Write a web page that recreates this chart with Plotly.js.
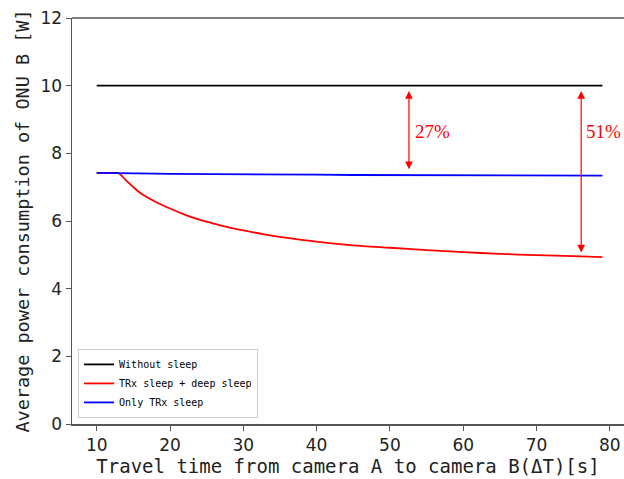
<!DOCTYPE html>
<html>
<head>
<meta charset="utf-8">
<script src="https://cdn.plot.ly/plotly-3.0.1.min.js"></script>
<style>html,body{margin:0;padding:0;background:#fff;}#chart{width:624px;height:479px;}</style>
</head>
<body>
<div id="chart"></div>
<script>
// ---- data ----
const travelTime = [10, 11, 12, 13, 14, 15, 16, 18, 20, 22, 24, 26, 28, 30, 33, 36, 40, 45, 50, 55, 60, 65, 70, 75, 79];
const withoutSleep = [10, 10, 10, 10, 10, 10, 10, 10, 10, 10, 10, 10, 10, 10, 10, 10, 10, 10, 10, 10, 10, 10, 10, 10, 10];
const trxDeepSleep = [7.42, 7.42, 7.42, 7.41, 7.20, 7.00, 6.82, 6.57, 6.37, 6.19, 6.04, 5.92, 5.81, 5.72, 5.60, 5.50, 5.39, 5.28, 5.21, 5.14, 5.08, 5.03, 4.99, 4.96, 4.93];
const onlyTrxSleep = [7.42, 7.42, 7.42, 7.41, 7.41, 7.41, 7.40, 7.40, 7.39, 7.39, 7.39, 7.38, 7.38, 7.38, 7.37, 7.37, 7.37, 7.36, 7.36, 7.36, 7.35, 7.35, 7.35, 7.34, 7.34];
const seriesNames = ["Without sleep", "TRx sleep + deep sleep", "Only TRx sleep"];
const xTicks = [10, 20, 30, 40, 50, 60, 70, 80];
const yTicks = [0, 2, 4, 6, 8, 10, 12];
const reductionLabels = ["27%", "51%"];
const reductionX = [52.6, 76.1];

const mono = "DejaVu Sans Mono, monospace";
const traces = [
  {x: travelTime, y: withoutSleep, name: seriesNames[0], mode: "lines", line: {color: "#000000", width: 1.8}},
  {x: travelTime, y: trxDeepSleep, name: seriesNames[1], mode: "lines", line: {color: "#ff0000", width: 1.8, shape: "spline", smoothing: 0.8}},
  {x: travelTime, y: onlyTrxSleep, name: seriesNames[2], mode: "lines", line: {color: "#0000ff", width: 1.8}}
];

function arrow(xv, yTop, yBot) {
  return {x: xv, y: yBot, ax: xv, ay: yTop, xref: "x", yref: "y", axref: "x", ayref: "y",
    text: "", showarrow: true, arrowside: "end+start", arrowhead: 2, startarrowhead: 2,
    arrowsize: 1.3, startarrowsize: 1.3, arrowwidth: 1.2, arrowcolor: "#ff0000", standoff: 0, startstandoff: 0};
}
function label(xv, txt) {
  return {x: xv, y: 8.64, xref: "x", yref: "y", text: txt, showarrow: false, xanchor: "left", yanchor: "middle",
    font: {family: "Liberation Serif, Times New Roman, serif", size: 19, color: "#ff0000"}};
}
const annotations = [
  arrow(reductionX[0], 9.89, 7.53),
  label(reductionX[0] + 0.6, reductionLabels[0]),
  arrow(reductionX[1], 9.89, 5.07),
  label(reductionX[1] + 0.4, reductionLabels[1])
];

const layout = {
  width: 624, height: 479,
  margin: {l: 72, r: 0, t: 18, b: 55},
  paper_bgcolor: "#ffffff", plot_bgcolor: "#ffffff",
  showlegend: true,
  legend: {x: 0.011, y: 0.015, xanchor: "left", yanchor: "bottom",
    bgcolor: "#ffffff", bordercolor: "#cccccc", borderwidth: 1, itemwidth: 30,
    font: {family: mono, size: 10, color: "#000000"}, tracegroupgap: 0},
  xaxis: {range: [6.63, 81.94], tickvals: xTicks, ticktext: xTicks.map(String),
    showgrid: false, zeroline: false, showline: true, linecolor: "#555555", linewidth: 1.5,
    ticks: "outside", ticklen: 5, tickwidth: 1, tickcolor: "#555555",
    tickfont: {family: "DejaVu Sans, sans-serif", size: 17, color: "#222222"},
    title: {text: "Travel time from camera A to camera B(\u0394T)[s]", standoff: 4,
      font: {family: mono, size: 19, color: "#222222"}}},
  yaxis: {range: [0, 12], tickvals: yTicks, ticktext: yTicks.map(String),
    showgrid: false, zeroline: false, showline: true, linecolor: "#555555", linewidth: 1.5,
    ticks: "outside", ticklen: 5, tickwidth: 1, tickcolor: "#555555",
    tickfont: {family: "DejaVu Sans, sans-serif", size: 17, color: "#222222"},
    title: {text: "Average power consumption of ONU B [W]", standoff: 6,
      font: {family: mono, size: 18.5, color: "#222222"}}},
  shapes: [{type: "line", xref: "paper", yref: "paper", x0: 0, x1: 1, y0: 1, y1: 1,
    line: {color: "#555555", width: 1.5}}],
  annotations: annotations
};

Plotly.newPlot("chart", traces, layout, {displayModeBar: false, staticPlot: true});
</script>
</body>
</html>
